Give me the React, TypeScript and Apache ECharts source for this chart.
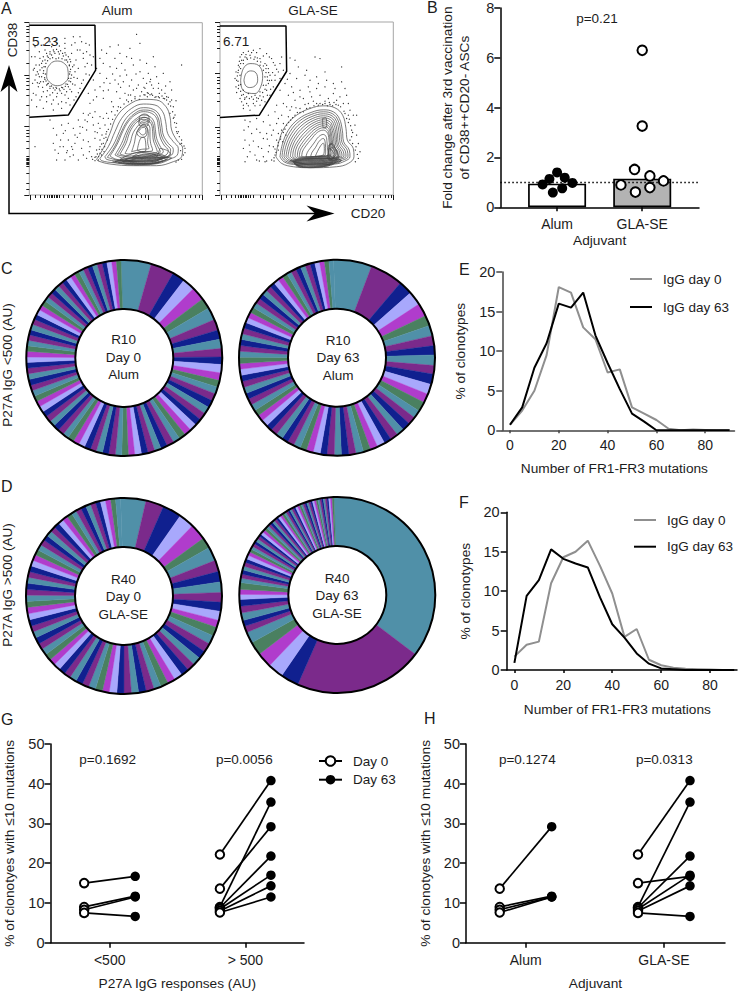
import React, { useEffect, useRef } from "react";
import * as echarts from "echarts";

const FONT = "Liberation Sans";
const TEXT = "#1c1c1c";

// ---------- Panel A: values in the plots' own channel units ----------
const a1XMajor = [90, 277, 445, 607];
const a1XMinor = [105, 120, 132, 143, 148, 153, 158, 163, 168, 173, 177, 190, 205, 222, 240, 252, 262, 270, 305, 340, 375, 395, 410, 425, 437, 480, 510, 535, 555, 570, 585, 597];
const a1YMajor = [68, 225, 380, 585];
const a1YMinor = [78, 88, 98, 108, 125, 150, 190, 235, 245, 255, 268, 285, 315, 345, 390, 400, 410, 425, 445, 470, 474, 478, 482, 486, 490, 494, 498, 520, 550, 568];
const a2XMajor = [35, 220, 388, 550];
const a2XMinor = [50, 65, 75, 85, 90, 95, 100, 105, 110, 115, 120, 130, 150, 165, 180, 190, 200, 210, 240, 270, 300, 325, 340, 355, 372, 405, 430, 460, 490, 510, 525, 535, 545];
const a2YMajor = [22, 175, 335, 540];
const a2YMinor = [32, 42, 52, 62, 78, 100, 140, 185, 195, 205, 220, 235, 258, 300, 345, 355, 365, 380, 395, 425, 429, 433, 437, 441, 445, 449, 453, 470, 505, 525];

const a1Gate = [88, 76, 285, 76, 287, 210, 205, 345, 88, 352];
const a2Gate = [30, 32, 228, 32, 230, 168, 148, 300, 30, 307];

const a1Contours = [
  [142, 205, 155, 188, 172, 183, 190, 188, 203, 205, 205, 230, 192, 250, 172, 257, 153, 250, 140, 230],
  [290, 478, 310, 445, 330, 400, 350, 350, 385, 315, 430, 298, 470, 300, 498, 320, 510, 350, 515, 390, 530, 420, 548, 445, 545, 470, 520, 485, 470, 497, 400, 497, 330, 492, 295, 483],
  [300, 475, 325, 440, 345, 395, 365, 355, 395, 325, 430, 312, 465, 315, 488, 335, 497, 365, 503, 400, 520, 425, 535, 445, 532, 465, 505, 478, 460, 490, 400, 490, 340, 488, 305, 482],
  [315, 470, 340, 435, 358, 395, 375, 360, 400, 335, 430, 323, 460, 328, 478, 345, 485, 375, 490, 405, 505, 430, 520, 448, 515, 465, 490, 475, 450, 485, 400, 485, 350, 483, 320, 478],
  [330, 468, 352, 432, 368, 395, 385, 365, 405, 345, 430, 335, 455, 340, 470, 355, 475, 380, 480, 410, 492, 435, 505, 452, 498, 465, 470, 475, 430, 480, 390, 481, 350, 478],
  [345, 465, 365, 430, 378, 398, 392, 372, 410, 355, 430, 345, 450, 350, 462, 365, 466, 388, 470, 415, 480, 438, 490, 455, 475, 465, 445, 472, 410, 475, 375, 475],
  [360, 462, 378, 430, 388, 400, 400, 378, 415, 363, 430, 358, 445, 362, 455, 375, 458, 395, 460, 420, 468, 442, 472, 455, 450, 462, 420, 466, 385, 468],
  [375, 460, 390, 430, 398, 402, 408, 385, 420, 372, 432, 368, 443, 372, 450, 385, 450, 405, 452, 430, 458, 450, 440, 455, 410, 458, 385, 462],
  [395, 455, 403, 430, 408, 405, 416, 388, 428, 378, 440, 382, 445, 400, 443, 425, 447, 445, 425, 448],
  [322, 472, 345, 438, 362, 400, 380, 366, 402, 342, 430, 330, 458, 334, 473, 350, 480, 378, 485, 408, 498, 432, 512, 450, 505, 468, 480, 476, 440, 482, 395, 483, 352, 480],
  [352, 464, 372, 430, 383, 399, 396, 375, 412, 359, 430, 352, 447, 356, 458, 370, 462, 392, 465, 418, 474, 440, 481, 455, 462, 464, 432, 470, 395, 472],
  [410, 398, 420, 380, 432, 374, 442, 388, 440, 405, 428, 412, 416, 408],
  [416, 395, 424, 384, 434, 382, 438, 396, 428, 405],
  [412, 450, 422, 415, 432, 412, 438, 450, 425, 455],
  [360, 478, 395, 462, 430, 455, 465, 458, 495, 470, 465, 480, 430, 484, 395, 484],
  [375, 480, 410, 468, 440, 462, 470, 464, 490, 474, 460, 484, 420, 488],
  [385, 483, 415, 474, 450, 470, 480, 476, 455, 488, 420, 491],
  [345, 484, 400, 472, 450, 467, 505, 472, 470, 488, 410, 492],
  [398, 470, 425, 458, 455, 462, 470, 470, 440, 476],
  [355, 488, 405, 478, 455, 474, 500, 478, 462, 490, 410, 494],
  [368, 486, 410, 480, 452, 477, 488, 481, 450, 490, 408, 491],
  [380, 490, 420, 483, 460, 482, 478, 486, 440, 492],
  [338, 486, 395, 476, 445, 472, 515, 474, 478, 490, 405, 495],
  [480, 445, 503, 452, 512, 462, 495, 472, 472, 470],
  [418, 350, 432, 342, 446, 348, 448, 368, 432, 362, 420, 368],
  [416, 362, 432, 352, 444, 358, 444, 378, 432, 372, 420, 378],
];

const a2Contours = [
  [92, 195, 100, 160, 120, 145, 145, 150, 158, 180, 152, 215, 135, 235, 112, 233, 96, 220],
  [102, 195, 108, 175, 122, 167, 138, 173, 143, 195, 135, 212, 118, 217, 106, 210],
  [198, 425, 205, 385, 225, 335, 260, 300, 300, 280, 340, 272, 375, 278, 398, 300, 408, 340, 412, 375, 430, 400, 432, 425, 415, 445, 380, 455, 300, 458, 250, 455, 215, 445],
  [210, 425, 217, 388, 235, 345, 265, 312, 303, 292, 340, 284, 370, 290, 388, 310, 397, 345, 401, 380, 418, 405, 420, 425, 405, 438, 375, 447, 300, 450, 250, 448, 222, 440],
  [222, 425, 228, 392, 245, 355, 272, 324, 306, 304, 340, 296, 366, 302, 380, 320, 387, 350, 391, 385, 406, 408, 408, 424, 393, 432, 370, 440, 300, 444, 252, 442, 232, 436],
  [234, 424, 240, 396, 255, 365, 280, 336, 310, 316, 340, 308, 362, 314, 372, 330, 378, 356, 382, 390, 394, 410, 396, 422, 380, 428, 360, 434, 300, 438, 255, 436, 242, 432],
  [248, 424, 252, 400, 266, 374, 288, 348, 314, 328, 340, 320, 358, 326, 365, 340, 370, 362, 374, 395, 384, 412, 384, 422, 365, 428, 340, 431, 300, 432, 260, 432],
  [262, 424, 265, 404, 277, 383, 296, 360, 318, 340, 340, 332, 354, 338, 360, 350, 363, 368, 367, 398, 374, 412, 370, 422, 345, 426, 300, 428, 270, 428],
  [275, 424, 278, 408, 288, 392, 304, 372, 322, 352, 340, 345, 350, 350, 355, 360, 357, 375, 360, 400, 364, 414, 350, 422, 300, 425],
  [288, 425, 292, 412, 300, 400, 312, 384, 326, 365, 340, 358, 348, 364, 351, 380, 353, 405, 355, 418, 330, 424],
  [302, 425, 306, 412, 316, 398, 328, 378, 340, 370, 346, 385, 347, 408, 345, 420, 325, 423],
  [316, 424, 322, 410, 332, 392, 340, 384, 343, 400, 341, 418],
  [216, 425, 222, 390, 240, 350, 268, 318, 304, 298, 340, 290, 368, 296, 384, 315, 392, 348, 396, 382, 412, 406, 414, 425, 399, 435, 372, 443, 300, 447, 251, 445, 227, 438],
  [228, 425, 234, 394, 250, 360, 276, 330, 308, 310, 340, 302, 364, 308, 376, 325, 382, 353, 386, 388, 400, 409, 402, 423, 386, 430, 365, 437, 300, 441, 253, 439, 237, 434],
  [241, 424, 246, 398, 260, 369, 284, 342, 312, 322, 340, 314, 360, 320, 368, 335, 374, 359, 378, 392, 389, 411, 390, 422, 372, 428, 350, 432, 300, 435, 258, 434],
  [255, 424, 258, 402, 271, 378, 292, 354, 316, 334, 340, 326, 356, 332, 362, 345, 366, 365, 370, 396, 379, 412, 377, 422, 355, 427, 300, 430, 265, 430],
  [268, 424, 271, 406, 282, 388, 300, 366, 320, 346, 340, 338, 352, 344, 357, 355, 360, 372, 363, 399, 369, 413, 360, 422, 320, 426, 280, 427],
  [250, 440, 300, 433, 360, 432, 385, 436, 360, 448, 300, 452, 260, 450],
  [255, 445, 300, 440, 370, 440, 340, 452, 280, 455],
  [260, 450, 320, 446, 360, 450, 300, 458],
  [240, 437, 300, 430, 375, 430, 392, 438, 370, 446, 300, 449],
  [252, 442, 300, 436, 380, 436, 365, 450, 300, 456, 262, 454],
  [258, 448, 310, 443, 368, 445, 330, 455, 275, 457],
  [248, 438, 300, 431, 350, 430, 395, 436, 350, 444, 295, 447],
  [362, 385, 372, 395, 382, 415, 375, 435, 360, 430, 356, 405],
  [366, 395, 376, 415, 370, 428, 360, 420, 360, 405],
  [358, 400, 368, 408, 372, 422, 364, 434, 352, 428],
  [356, 390, 366, 386, 378, 405, 386, 425, 372, 438, 356, 432],
  [338, 310, 348, 308, 350, 335, 340, 338],
];

const a1Dots = [130, 170, 140, 160, 150, 155, 160, 150, 170, 148, 182, 152, 195, 158, 205, 170, 212, 185, 218, 200, 215, 225, 212, 245, 205, 260, 192, 268, 180, 272, 165, 270, 150, 265, 140, 255, 130, 245, 125, 230, 120, 210, 125, 190, 135, 180, 145, 172, 155, 165, 165, 160, 178, 162, 190, 168, 200, 180, 208, 195, 210, 215, 206, 235, 198, 252, 185, 262, 170, 265, 155, 258, 145, 250, 135, 238, 130, 220, 132, 200, 118, 230, 112, 215, 108, 195, 120, 175, 135, 150, 155, 140, 178, 138, 195, 145, 215, 160, 228, 180, 235, 205, 232, 235, 225, 255, 215, 275, 195, 285, 170, 290, 150, 285, 130, 275, 115, 260, 105, 240, 160, 300, 140, 305, 185, 305, 205, 295, 240, 150, 250, 175, 255, 200, 245, 125, 258, 130, 270, 165, 275, 195, 268, 225, 250, 240, 240, 265, 228, 290, 210, 315, 185, 325, 160, 330, 120, 300, 100, 280, 95, 170, 105, 140, 170, 120, 195, 115, 220, 110, 260, 155, 110, 320,
  305, 150, 320, 160, 345, 175, 365, 190, 410, 103, 460, 170, 545, 195, 310, 190, 330, 200, 350, 205, 375, 210, 400, 195, 420, 215, 445, 220, 470, 230, 300, 220, 320, 235, 345, 240, 370, 245, 395, 240, 415, 255, 440, 250, 460, 265, 485, 270, 500, 290, 300, 260, 325, 270, 350, 275, 375, 280, 400, 270, 425, 275, 445, 280, 475, 290, 290, 290, 310, 295, 335, 305, 355, 320, 380, 300, 405, 290, 435, 285, 465, 292, 490, 295, 510, 305, 520, 320, 525, 345, 530, 370, 535, 395, 545, 420, 555, 445, 550, 465, 535, 480, 510, 340, 515, 300, 495, 280, 270, 310, 285, 335, 300, 350, 320, 340, 335, 335, 250, 340, 235, 360, 220, 385, 240, 400, 260, 390, 280, 375, 300, 385, 315, 375, 205, 370, 185, 375, 170, 405, 160, 430, 175, 460, 190, 440, 205, 420, 225, 430, 245, 445, 265, 425, 285, 415, 300, 420, 320, 395, 310, 430, 290, 450, 275, 470, 260, 475, 235, 480, 210, 470, 195, 480, 170, 480, 305, 465, 295, 480, 285, 482, 160, 385, 105, 440, 150, 360, 360, 228, 388, 258, 408, 222, 432, 262, 452, 238, 476, 250, 338, 222, 312, 248, 362, 262, 392, 285, 418, 298, 442, 290, 455, 282, 278, 352, 262, 365, 248, 382, 232, 412, 218, 448, 202, 452, 182, 420, 196, 392, 292, 398, 306, 405, 318, 412, 300, 440, 312, 455, 520, 355, 530, 395, 540, 432, 542, 452, 528, 302, 505, 292, 478, 280,
  136, 200, 138, 190, 143, 182, 150, 176, 158, 173, 168, 176, 176, 174, 186, 176, 195, 180, 203, 186, 208, 197, 212, 208, 209, 222, 213, 235, 207, 243, 203, 253, 196, 259, 188, 263, 178, 267, 168, 262, 160, 264, 150, 259, 143, 252, 138, 243, 134, 233, 136, 222, 131, 212, 126, 203, 128, 183, 118, 195, 115, 222, 122, 245, 112, 248, 108, 225, 103, 205, 150, 162, 142, 168, 162, 155, 175, 155, 188, 160, 198, 165, 210, 178, 222, 195, 225, 215, 222, 232, 218, 252, 210, 268, 200, 275, 185, 280, 172, 280, 158, 278, 142, 272, 128, 262, 118, 250, 140, 290, 125, 290, 155, 312, 175, 312, 198, 308, 222, 300, 235, 278, 245, 250, 258, 222, 262, 190, 250, 160, 232, 150, 215, 135, 195, 130, 172, 130, 150, 125, 130, 135, 118, 155, 105, 170, 100, 210, 98, 250, 108, 285, 95, 300, 130, 325, 225, 128, 268, 135, 240, 110, 280, 170,
  420, 288, 432, 284, 442, 278, 450, 284, 458, 286, 468, 290, 478, 293, 486, 288, 494, 296, 500, 300, 505, 312, 512, 318, 518, 335, 522, 352, 524, 368, 528, 382, 532, 400, 538, 410, 545, 430, 552, 438, 555, 458, 545, 478, 528, 486, 405, 296, 395, 302, 385, 305, 372, 312, 362, 322, 352, 332, 345, 345, 338, 358, 332, 372, 325, 388, 318, 402, 312, 415, 305, 432, 298, 448, 292, 462, 285, 472, 278, 478, 322, 420, 314, 440, 306, 448, 300, 460, 296, 470, 288, 470,
  360, 160, 380, 170, 395, 175, 420, 180, 440, 190, 465, 200, 490, 220, 510, 245, 515, 270, 430, 235, 450, 245, 380, 225, 355, 252, 330, 250, 310, 272, 285, 270, 265, 280, 270, 340, 255, 360, 240, 380, 225, 405, 215, 440, 250, 420, 270, 440, 285, 395, 295, 370, 310, 355, 325, 355, 340, 320, 360, 295, 385, 285, 410, 265, 435, 265, 455, 255, 475, 265, 497, 258, 280, 240, 290, 205, 300, 175, 330, 140, 355, 135, 390, 145, 420, 130, 280, 300, 265, 345, 190, 400, 180, 440, 200, 458, 220, 465, 250, 465, 268, 455, 165, 450];

const a2Dots = [85, 150, 95, 135, 105, 125, 120, 120, 135, 125, 150, 130, 165, 145, 175, 160, 180, 180, 175, 205, 170, 225, 160, 245, 145, 250, 125, 245, 110, 245, 95, 240, 85, 220, 80, 195, 78, 170, 90, 125, 100, 112, 115, 108, 130, 105, 150, 100, 170, 115, 185, 130, 195, 150, 205, 170, 195, 195, 190, 215, 180, 240, 165, 260, 150, 270, 130, 265, 110, 265, 95, 260, 100, 280, 120, 285, 90, 180, 85, 165, 100, 145, 150, 150, 160, 165, 165, 185, 160, 210, 150, 230, 135, 240, 115, 235, 100, 225, 215, 125, 210, 145, 220, 165, 88, 138, 112, 132, 142, 138, 168, 172, 172, 195, 92, 208, 104, 252, 140, 258,
  240, 128, 255, 135, 265, 155, 290, 165, 315, 125, 330, 130, 395, 155, 240, 175, 260, 190, 285, 180, 300, 195, 320, 185, 345, 170, 370, 205, 395, 200, 410, 240, 225, 205, 245, 215, 270, 225, 295, 215, 320, 220, 345, 215, 370, 235, 390, 245, 210, 225, 235, 240, 255, 255, 280, 250, 305, 245, 330, 240, 355, 250, 380, 255, 400, 265, 420, 285, 430, 300, 435, 330, 440, 360, 445, 385, 450, 410, 445, 430, 200, 270, 220, 265, 245, 275, 270, 280, 295, 265, 320, 265, 345, 265, 360, 268, 385, 270, 415, 300, 425, 345, 420, 375, 175, 300, 195, 290, 215, 300, 235, 305, 160, 320, 180, 330, 200, 325, 220, 325, 105, 315, 115, 335, 125, 355, 105, 375, 100, 400, 105, 440, 120, 410, 140, 342, 145, 395, 160, 370, 170, 355, 185, 360, 205, 355, 215, 345, 200, 375, 190, 395, 175, 410, 160, 425, 140, 435, 170, 438, 185, 435, 195, 420, 192, 438, 338, 268, 352, 272, 368, 272, 325, 270, 300, 278, 280, 290, 262, 292, 248, 308, 236, 322, 225, 342, 212, 365, 205, 382, 195, 402, 415, 322, 425, 365, 436, 405, 410, 310, 402, 288, 378, 268,
  88, 155, 92, 145, 100, 135, 110, 128, 122, 128, 132, 132, 142, 128, 152, 140, 160, 152, 170, 150, 168, 160, 176, 172, 172, 185, 178, 196, 168, 210, 165, 222, 158, 232, 150, 242, 140, 248, 130, 252, 118, 250, 105, 248, 100, 238, 92, 228, 86, 210, 84, 198, 82, 182, 84, 172, 92, 160, 95, 118, 108, 118, 125, 112, 140, 112, 160, 122, 178, 125, 190, 142, 200, 162, 188, 172, 185, 195, 195, 180, 182, 222, 172, 240, 155, 255, 135, 272, 115, 272, 100, 270, 90, 250, 80, 232, 78, 215, 75, 190,
  330, 265, 345, 258, 358, 262, 372, 262, 392, 275, 405, 295, 418, 312, 422, 332, 428, 352, 428, 385, 438, 395, 442, 418, 436, 440, 312, 272, 290, 280, 270, 292, 255, 300, 242, 315, 230, 330, 220, 352, 212, 372, 204, 392, 198, 412, 192, 428, 205, 405, 218, 380, 228, 360,
  210, 190, 232, 192, 250, 232, 270, 245, 300, 230, 325, 205, 350, 195, 375, 220, 405, 220, 415, 265, 440, 300, 230, 275, 258, 278, 285, 268, 310, 258, 240, 285, 205, 310, 190, 345, 172, 372, 150, 352, 130, 378, 118, 390, 135, 420, 155, 400, 178, 392, 165, 440, 148, 438, 112, 425, 102, 345, 120, 320, 140, 310];

// ---------- Panel B ----------
const bCategories = ["Alum", "GLA-SE"];
const bBarValues = [0.95, 1.15];
const bAlumX = [0.0, -0.09, 0.09, -0.17, 0.18, 0.06, -0.05];
const bAlumY = [1.4, 1.14, 1.19, 0.92, 0.98, 0.76, 0.59];
const bGlaX = [1.0, 1.0, 0.91, 1.09, 1.25, 0.75, 1.09, 0.92];
const bGlaY = [6.3, 3.26, 1.52, 1.26, 1.06, 0.9, 0.79, 0.61];

// ---------- Panels C, D: clonotype shares ----------
const pieColors = ["#5090a8", "#7b2a8b", "#10208f", "#a8a8fc", "#b03ccc", "#4a8060", "#5090a8", "#7b2a8b", "#10208f"];
const r10Day0 = [18, 14, 7.5, 7.5, 8, 6.5, 7.5, 6.5, 5.5, 5.5, 5, 4.5, 5, 4.5, 4, 4.2, 4.4, 4.5, 4.2, 4.4, 4.1, 4.3, 4.2, 4.0, 4.1, 4.3, 4.0, 3.9, 4.1, 3.9, 4.0, 3.8, 3.9, 3.8, 4.0, 3.7, 3.8, 3.6, 3.8, 3.7, 3.6, 3.8, 3.5, 3.7, 3.6, 3.5, 3.6, 3.4, 3.6, 3.5, 3.4, 3.5, 3.3, 3.5, 3.4, 3.3, 3.4, 3.2, 3.4, 3.3, 3.2, 3.3, 3.1, 3.3, 3.2, 3.1, 3.2, 3.0, 3.1, 3.0, 3.1, 2.9, 3.0, 3.0, 2.9, 3.0, 2.8, 2.9, 2.9, 2.8, 3.0, 2.9, 3.0, 2.8, 2.9, 2.8, 2.7];
const r10Day63 = [22, 19, 8, 8, 7.6, 6, 6, 5.7, 5.3, 6, 5, 6, 5.8, 5.2, 5.6, 4.6, 4.5, 4.8, 4.4, 4.5, 4.2, 4.5, 4.3, 4.2, 4.4, 4.0, 4.3, 4.1, 4.2, 3.9, 4.1, 4.0, 3.8, 4.0, 3.9, 3.7, 4.0, 3.8, 3.6, 3.8, 3.7, 3.5, 3.8, 3.6, 3.5, 3.7, 3.4, 3.6, 3.5, 3.3, 3.6, 3.4, 3.3, 3.5, 3.2, 3.4, 3.3, 3.1, 3.3, 3.2, 3.0, 3.2, 3.1, 3.0, 3.1, 2.9, 3.0, 3.1, 2.9, 2.8, 3.0, 2.9, 2.8, 2.9, 2.7, 2.8, 2.8, 2.6, 2.7];
const r40Day0 = [14, 10, 10.5, 8.6, 9, 6, 7.7, 6.3, 5.8, 5.8, 5.4, 5, 5, 4, 5, 4.8, 5, 4.5, 4.6, 4.3, 4.4, 4.6, 4.2, 4.3, 4.0, 4.4, 4.2, 4.0, 4.1, 3.9, 4.2, 3.8, 4.0, 3.9, 3.7, 3.9, 3.8, 3.6, 3.7, 3.8, 3.5, 3.7, 3.6, 3.4, 3.7, 3.5, 3.3, 3.6, 3.4, 3.5, 3.3, 3.4, 3.2, 3.4, 3.3, 3.1, 3.3, 3.2, 3.3, 3.0, 3.2, 3.1, 3.0, 3.2, 2.9, 3.1, 3.0, 2.9, 3.0, 2.8, 3.0, 2.9, 2.8, 2.9, 2.7, 2.8, 2.9, 2.7, 2.8];
const r40Day63 = [129.2, 76.5, 10.8, 9.2, 9, 8, 6.7, 3.8, 3.5, 4.5, 4, 4, 3, 3, 4, 2.6, 2.4, 2.5, 2.3, 2.4, 2.2, 2.3, 2.1, 1.9, 1.8, 1.9, 1.7, 1.8, 1.7, 1.6, 1.7, 1.6, 1.7, 1.6, 1.5, 1.6, 1.5, 1.5, 1.4, 1.5, 1.4, 1.4, 1.3, 1.3, 1.2, 1.3, 1.2, 1.2, 1.3, 1.2, 1.2, 1.1, 1.2, 1.2, 1.1, 1.2, 1.1, 1.1, 1.2, 1.1, 1.1, 1.1, 1.0, 1.1, 1.1, 1.0, 1.0, 1.1, 1.0];

// ---------- Panels E, F ----------
const mutationBins = [0, 5, 10, 15, 20, 25, 30, 35, 40, 45, 50, 55, 60, 65, 70, 75, 80, 85, 90];
const eDay0 = [0.7, 2.5, 5, 9.5, 18.1, 17.4, 13, 11.5, 7.3, 7.7, 2.9, 2.1, 1.3, 0.2, 0, 0.1, 0.05, 0, 0];
const eDay63 = [0.7, 2.9, 7.9, 11, 16, 15.5, 17.4, 12, 8.5, 5.2, 2.1, 1.1, 0, 0, 0, 0, 0, 0, 0];
const fDay0 = [1.7, 3.2, 3.6, 11, 14.3, 15, 16.4, 13.2, 9.7, 4.2, 5.2, 1.3, 0.6, 0.3, 0.15, 0.1, 0.05, 0, 0];
const fDay63 = [0.9, 9.4, 11.4, 15.3, 14.1, 13.5, 13, 9.2, 5.8, 4.1, 2.1, 0.8, 0.2, 0.1, 0, 0, 0, 0, 0];
const mutationTicks = [0, 20, 40, 60, 80];

// ---------- Panels G, H ----------
const gCategories = ["<500", "> 500"];
const gLowDay0 = [15, 9, 8.3, 7.5];
const gLowDay63 = [16.7, 11.7, 11.5, 6.6];
const gHighDay0 = [22.2, 13.6, 9, 8.8, 8.5, 8, 7.6];
const gHighDay63 = [40.8, 29.2, 35.4, 21.8, 17, 14.3, 11.5];
const hCategories = ["Alum", "GLA-SE"];
const hAlumDay0 = [13.6, 9, 8.3, 7.6];
const hAlumDay63 = [29.2, 11.7, 11.5, 11.5];
const hGlaDay0 = [22.2, 15, 9, 8.8, 8.5, 8, 7.5];
const hGlaDay63 = [40.8, 16.7, 35.4, 21.8, 17, 14.3, 6.6];

const pairs = (a: number[]) => {
  const out: number[][] = [];
  for (let i = 0; i < a.length; i += 2) out.push([a[i], a[i + 1]]);
  return out;
};

const gridBox = (l: number, t: number, r: number, b: number, extra: any = {}) => ({
  left: l, top: t, width: r - l, height: b - t, containLabel: false, ...extra,
});

const facsAxis = (gridIndex: number, min: number, max: number, ticks: number[], len: number, position: string, inverse = false) => ({
  type: "value", gridIndex, min, max, inverse, position,
  axisLine: { show: false, onZero: false }, splitLine: { show: false }, axisLabel: { show: false },
  axisTick: { show: true, customValues: ticks, length: len, lineStyle: { color: "#1a1a1a", width: 1 } },
});

const plainX = (gridIndex: number, min: number, max: number, values: number[], labels: ((v: number) => string), color: string, name: string, nameGap: number, margin: number, len: number, namePad = 0) => ({
  type: "value", gridIndex, min, max, name, nameLocation: "middle", nameGap,
  nameTextStyle: { fontSize: 13.7, color: TEXT, fontFamily: FONT, padding: [0, namePad, 0, 0] },
  axisLine: { show: true, onZero: false, lineStyle: { color, width: 1.5 } },
  axisTick: { show: true, customValues: values, length: len, lineStyle: { color, width: 1.5 } },
  axisLabel: { customValues: values, formatter: labels, fontSize: 14, color: TEXT, fontFamily: FONT, margin, hideOverlap: false, showMinLabel: true, showMaxLabel: true },
  splitLine: { show: false },
});

const plainY = (gridIndex: number, max: number, interval: number, color: string, name: string, nameGap: number, margin: number) => ({
  type: "value", gridIndex, min: 0, max, interval, name, nameLocation: "middle", nameGap,
  nameTextStyle: { fontSize: 13.7, color: TEXT, fontFamily: FONT, lineHeight: 17.5 },
  axisLine: { show: true, onZero: false, lineStyle: { color, width: 1.5 } },
  axisTick: { show: true, length: 6, lineStyle: { color, width: 1.5 } },
  axisLabel: { fontSize: 14.5, color: TEXT, fontFamily: FONT, margin },
  splitLine: { show: false },
});

const closed = (p: number[][]) => [...p, p[0]];

const contourSeries = (sets: number[][], ax: number) =>
  sets.map((c) => ({
    type: "line", xAxisIndex: ax, yAxisIndex: ax, data: closed(pairs(c)), symbol: "none", smooth: 0.4,
    lineStyle: { color: "#444", width: 0.7 }, silent: true, z: 3,
  }));

const donut = (values: number[], cx: number, cy: number) => ({
  type: "pie", center: [cx, cy], radius: [49, 98], startAngle: 92, clockwise: true, silent: true,
  label: { show: false }, labelLine: { show: false }, avoidLabelOverlap: false,
  data: values.map((v, i) => {
    const color = pieColors[i % pieColors.length];
    return { value: v, itemStyle: { color, borderColor: color, borderWidth: 0.4 } };
  }),
});

const pairSeries = (day0: number[], day63: number[], x0: number, x1: number, ax: number) =>
  day0.map((v, i) => ({
    type: "line", xAxisIndex: ax, yAxisIndex: ax, symbol: "circle", symbolSize: 9, showSymbol: true,
    lineStyle: { color: "#000", width: 1.7 }, z: 3, silent: true,
    data: [
      { value: [x0, v], symbolSize: 8.5, itemStyle: { color: "#fff", borderColor: "#000", borderWidth: 2 } },
      { value: [x1, day63[i]], symbolSize: 9.5, itemStyle: { color: "#000", borderColor: "#000", borderWidth: 0 } },
    ],
  }));

const txt = (text: string, x: number, y: number, size = 13.5, align = "center", rotate = 0, lineHeight?: number) => ({
  type: "text", x, y, rotation: rotate, silent: true, z: 100,
  style: { text, fontSize: size, fontFamily: FONT, fill: TEXT, align, verticalAlign: "middle", textAlign: align, textVerticalAlign: "middle", lineHeight },
});

const ring = (cx: number, cy: number, r: number) => ({
  type: "circle", shape: { cx, cy, r }, silent: true, z: 100,
  style: { fill: "transparent", stroke: "#000", lineWidth: 2 },
});

const LINE_ICON = "path://M0,0H100V9H0Z";
const lineLegend = (names: string[], left: number, top: number, gap: number) => ({
  data: names.map((name) => ({ name, icon: LINE_ICON })), orient: "vertical", left, top, padding: 0,
  itemWidth: 22, itemHeight: 14, itemGap: gap, selectedMode: false,
  textStyle: { fontSize: 13.5, color: TEXT, fontFamily: FONT, padding: [0, 0, 0, 6] },
});

const gxMin = (45.7 - 106) / 138.3, gxMax = (304 - 106) / 138.3;
const hxMin = (466 - 525.7) / 138.3, hxMax = (725 - 525.7) / 138.3;
const G_OFF = 0.188;

const option: any = {
  animation: false,
  backgroundColor: "#fff",
  textStyle: { fontFamily: FONT, color: TEXT },
  grid: [
    gridBox(29.3, 22.7, 202.3, 195, { show: true, borderColor: "#a5a5a5", borderWidth: 1 }),
    gridBox(220, 22, 393.3, 195, { show: true, borderColor: "#a5a5a5", borderWidth: 1 }),
    gridBox(500.3, 8, 699, 207.3),
    gridBox(502.3, 272, 734.5, 430.3),
    gridBox(506.7, 512.3, 737, 670),
    gridBox(45.7, 744, 304, 943.7),
    gridBox(466, 744, 725, 944),
  ],
  xAxis: [
    facsAxis(0, 88, 607, a1XMajor, 5, "bottom"),
    facsAxis(0, 88, 607, a1XMinor, 3, "bottom"),
    facsAxis(1, 30, 550, a2XMajor, 5, "bottom"),
    facsAxis(1, 30, 550, a2XMinor, 3, "bottom"),
    plainX(2, -0.667, 1.667, [0, 1], (v) => bCategories[Math.round(v)], "#000", "Adjuvant", 25.7, 10, 4),
    plainX(3, -3.15, 92, mutationTicks, (v) => String(v), "#444", "Number of FR1-FR3 mutations", 30.7, 8, 3, 8),
    plainX(4, -3.15, 91, mutationTicks, (v) => String(v), "#000", "Number of FR1-FR3 mutations", 32, 8, 3, 9),
    plainX(5, gxMin, gxMax, [0, 1], (v) => gCategories[Math.round(v)], "#000", "P27A IgG responses (AU)", 33.3, 10, 5),
    plainX(6, hxMin, hxMax, [0, 1], (v) => hCategories[Math.round(v)], "#000", "Adjuvant", 33.3, 10, 5),
  ],
  yAxis: [
    facsAxis(0, 68, 585, a1YMajor, 5, "left", true),
    facsAxis(0, 68, 585, a1YMinor, 3, "left", true),
    facsAxis(1, 20, 540, a2YMajor, 5, "left", true),
    facsAxis(1, 20, 540, a2YMinor, 3, "left", true),
    plainY(2, 8, 2, "#000", "Fold change after 3rd vaccination\nof CD38++CD20- ASCs", 26.6, 6),
    plainY(3, 20, 5, "#444", "% of clonotypes", 32.6, 7),
    plainY(4, 20, 5, "#000", "% of clonotypes", 32.4, 7),
    plainY(5, 50, 10, "#000", "% of clonotyes with \u226410 mutations", 32, 6),
    plainY(6, 50, 10, "#000", "% of clonotyes with \u226410 mutations", 31.7, 6),
  ],
  legend: [
    lineLegend(["IgG day 0", "IgG day 63"], 630, 272, 14),
    lineLegend(["IgG day 0 ", "IgG day 63 "], 634, 513, 12.7),
    {
      data: ["Day 0", "Day 63"], orient: "vertical", left: 318, top: 754, padding: 0, itemWidth: 23, itemHeight: 12, itemGap: 4.7,
      selectedMode: false, textStyle: { fontSize: 13.5, color: TEXT, fontFamily: FONT, padding: [0, 0, 0, 6] },
    },
  ],
  series: [
    // Panel A
    { type: "scatter", xAxisIndex: 0, yAxisIndex: 0, data: pairs(a1Dots), symbolSize: 1.2, itemStyle: { color: "#222", opacity: 1 }, silent: true, z: 2 },
    { type: "scatter", xAxisIndex: 2, yAxisIndex: 2, data: pairs(a2Dots), symbolSize: 1.2, itemStyle: { color: "#222", opacity: 1 }, silent: true, z: 2 },
    ...contourSeries(a1Contours, 0),
    ...contourSeries(a2Contours, 2),
    { type: "line", xAxisIndex: 0, yAxisIndex: 0, data: pairs(a1Gate), symbol: "none", lineStyle: { color: "#000", width: 1.5 }, silent: true, z: 4 },
    { type: "line", xAxisIndex: 2, yAxisIndex: 2, data: pairs(a2Gate), symbol: "none", lineStyle: { color: "#000", width: 1.5 }, silent: true, z: 4 },
    // Panel B
    {
      type: "bar", xAxisIndex: 4, yAxisIndex: 4, barWidth: 58, silent: true, z: 2,
      data: bBarValues.map((v, i) => ({ value: [i, v], itemStyle: { color: i === 0 ? "#fff" : "#b3b3b3", borderColor: "#000", borderWidth: 1.7 } })),
    },
    {
      type: "line", xAxisIndex: 4, yAxisIndex: 4, symbol: "none", silent: true, z: 3,
      data: [[-0.667, 1], [1.667, 1]], lineStyle: { color: "#000", width: 1.5, type: [1.5, 2.5] },
    },
    {
      type: "scatter", xAxisIndex: 4, yAxisIndex: 4, symbolSize: 10, silent: true, z: 4,
      data: bAlumX.map((x, i) => [x, bAlumY[i]]), itemStyle: { color: "#000", opacity: 1 },
    },
    {
      type: "scatter", xAxisIndex: 4, yAxisIndex: 4, symbolSize: 9.5, silent: true, z: 4,
      data: bGlaX.map((x, i) => [x, bGlaY[i]]), itemStyle: { color: "#fff", borderColor: "#000", borderWidth: 2, opacity: 1 },
    },
    // Panels C, D
    donut(r10Day0, 124.3, 358),
    donut(r10Day63, 337, 357.7),
    donut(r40Day0, 124, 596),
    donut(r40Day63, 337.3, 595),
    // Panels E, F
    { type: "line", name: "IgG day 0", xAxisIndex: 5, yAxisIndex: 5, symbol: "none", silent: true, lineStyle: { color: "#8f8f8f", width: 2 }, itemStyle: { color: "#8f8f8f" }, data: mutationBins.map((x, i) => [x, eDay0[i]]), z: 3 },
    { type: "line", name: "IgG day 63", xAxisIndex: 5, yAxisIndex: 5, symbol: "none", silent: true, lineStyle: { color: "#000", width: 2 }, itemStyle: { color: "#000" }, data: mutationBins.map((x, i) => [x, eDay63[i]]), z: 4 },
    { type: "line", name: "IgG day 0 ", xAxisIndex: 6, yAxisIndex: 6, symbol: "none", silent: true, lineStyle: { color: "#8f8f8f", width: 2 }, itemStyle: { color: "#8f8f8f" }, data: mutationBins.map((x, i) => [x, fDay0[i]]), z: 3 },
    { type: "line", name: "IgG day 63 ", xAxisIndex: 6, yAxisIndex: 6, symbol: "none", silent: true, lineStyle: { color: "#000", width: 2 }, itemStyle: { color: "#000" }, data: mutationBins.map((x, i) => [x, fDay63[i]]), z: 4 },
    // Panels G, H
    ...pairSeries(gLowDay0, gLowDay63, -G_OFF, G_OFF, 7),
    ...pairSeries(gHighDay0, gHighDay63, 1 - G_OFF, 1 + G_OFF, 7),
    ...pairSeries(hAlumDay0, hAlumDay63, -G_OFF, G_OFF, 8),
    ...pairSeries(hGlaDay0, hGlaDay63, 1 - G_OFF, 1 + G_OFF, 8),
    {
      type: "line", name: "Day 0", xAxisIndex: 7, yAxisIndex: 7, data: [], symbol: "circle", symbolSize: 9,
      itemStyle: { color: "#fff", borderColor: "#000", borderWidth: 2 }, lineStyle: { color: "#000", width: 1.7 },
    },
    {
      type: "line", name: "Day 63", xAxisIndex: 7, yAxisIndex: 7, data: [], symbol: "circle", symbolSize: 9,
      itemStyle: { color: "#000", borderColor: "#000" }, lineStyle: { color: "#000", width: 1.7 },
    },
  ],
  graphic: {
    elements: [
      // panel letters
      txt("A", 1, 8, 16, "left"), txt("B", 427, 7, 16, "left"), txt("C", 1, 268, 16, "left"), txt("D", 1, 486, 16, "left"),
      txt("E", 459, 269, 16, "left"), txt("F", 459, 502, 16, "left"), txt("G", 1, 719, 16, "left"), txt("H", 424, 718, 16, "left"),
      // panel A
      txt("Alum", 117, 10), txt("GLA-SE", 313, 10), txt("CD38", 12, 40, 13.5, "center", Math.PI / 2),
      txt("CD20", 368, 213), txt("5.23", 32, 41, 13.5, "left"), txt("6.71", 223, 41, 13.5, "left"),
      { type: "polyline", shape: { points: [[9, 70], [9, 213.5], [330, 213.5]] }, silent: true, z: 100, style: { stroke: "#000", lineWidth: 1.5, fill: "none" } },
      { type: "polygon", shape: { points: [[9, 65], [0.5, 92], [9, 85], [17.5, 92]] }, silent: true, z: 100, style: { fill: "#000" } },
      { type: "polygon", shape: { points: [[334.5, 213.5], [306.5, 205.5], [315, 213.5], [306.5, 221.5]] }, silent: true, z: 100, style: { fill: "#000" } },
      // significance
      txt("p=0.21", 597, 18), txt("p=0.1692", 107.7, 759), txt("p=0.0056", 244.3, 759), txt("p=0.1274", 527.3, 759), txt("p=0.0313", 664.3, 759),
      // side labels
      txt("P27A IgG <500 (AU)", 7.5, 365, 13.5, "center", Math.PI / 2),
      txt("P27A IgG >500 (AU)", 7.5, 585, 13.5, "center", Math.PI / 2),
      // donut rings and centres
      ring(124.3, 358, 98), ring(124.3, 358, 49), ring(337, 357.7, 98), ring(337, 357.7, 49),
      ring(124, 596, 98), ring(124, 596, 49), ring(337.3, 595, 98), ring(337.3, 595, 49),
      txt("R10\nDay 0\nAlum", 123.5, 357, 13.5, "center", 0, 17.5),
      txt("R10\nDay 63\nAlum", 338, 357.5, 13.5, "center", 0, 17.5),
      txt("R40\nDay 0\nGLA-SE", 123.3, 596.5, 13.5, "center", 0, 17.5),
      txt("R40\nDay 63\nGLA-SE", 337, 595.5, 13.5, "center", 0, 17.5),
    ],
  },
};

export default function App() {
  const ref = useRef<HTMLDivElement>(null);
  useEffect(() => {
    if (!ref.current) return;
    const chart = echarts.init(ref.current, undefined, { renderer: "svg" });
    chart.setOption(option);
    return () => chart.dispose();
  }, []);
  return <div ref={ref} style={{ position: "absolute", left: 0, top: 0, width: 743, height: 991, background: "#fff" }} />;
}
